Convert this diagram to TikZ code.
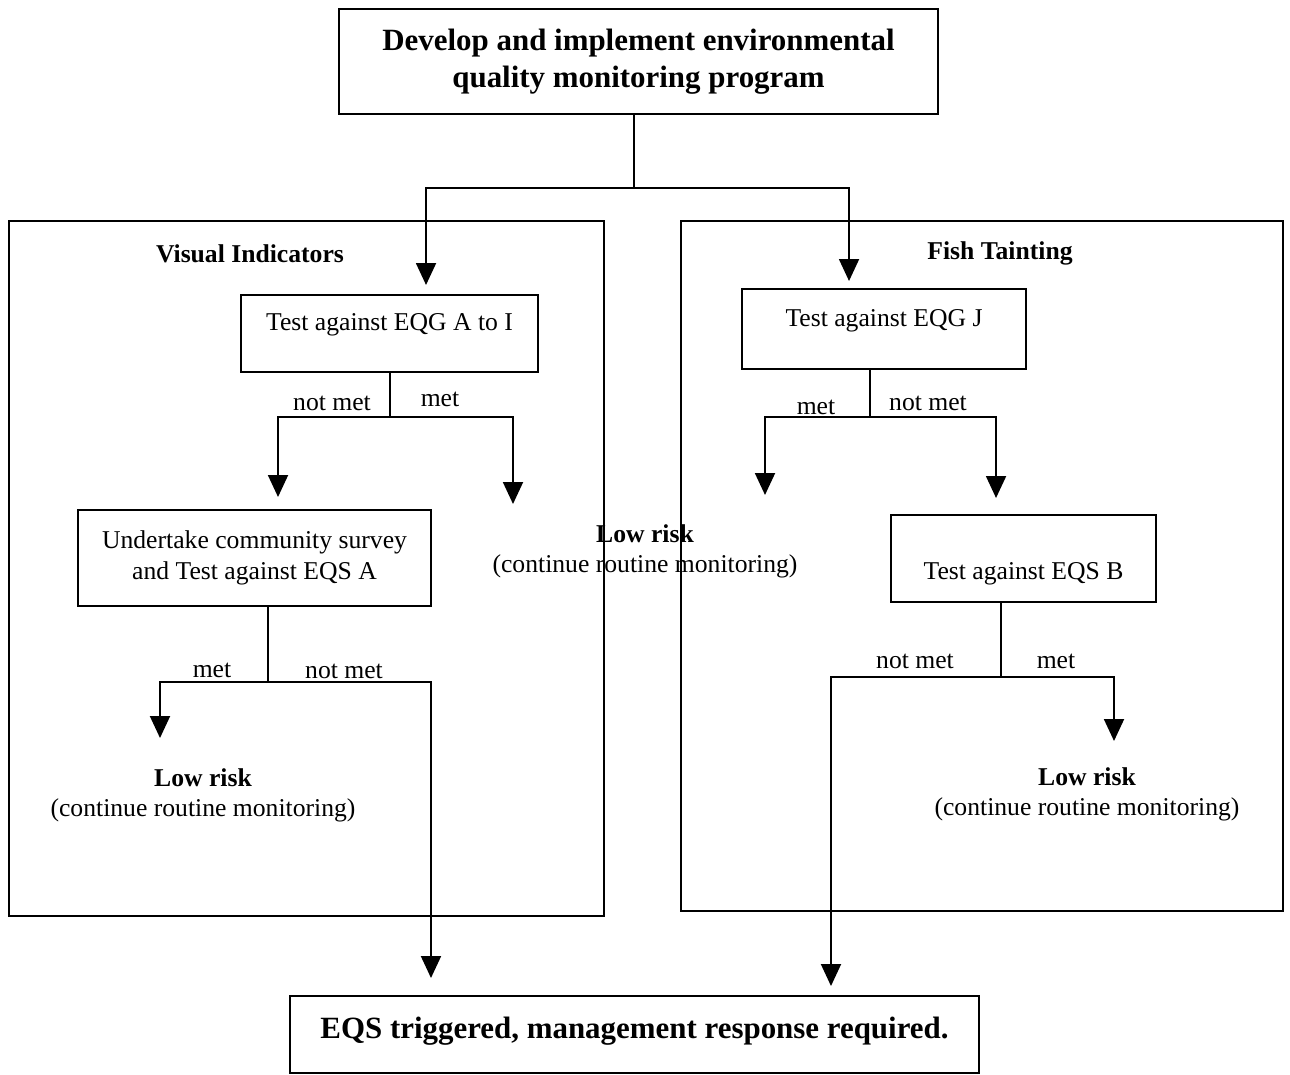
\documentclass[tikz,border=0pt]{standalone}
\usepackage{fontspec}
\setmainfont{Liberation Serif}
\usetikzlibrary{arrows.meta, calc}

\begin{document}
\begin{tikzpicture}[x=0.02cm, y=-0.02cm,
    box/.style={draw, line width=1.2pt, inner sep=0pt, anchor=north west, align=center,
      font=\fontsize{14.6}{17.6}\selectfont},
    panel/.style={draw, line width=1pt, inner sep=0pt, anchor=north west},
    body/.style={align=center, font=\fontsize{14.6}{17}\selectfont},
    head/.style={font=\fontsize{14.6}{17}\selectfont\bfseries},
    lbl/.style={font=\fontsize{14.6}{17}\selectfont},
    flow/.style={line width=1.1pt},
    arr/.style={flow, -{Triangle[length=0.44cm, width=0.4cm]}}]
  \useasboundingbox (0,0) rectangle (1290,1074);

  \node[box, minimum width=11.98cm, minimum height=2.1cm, font=\fontsize{17.6}{21}\selectfont\bfseries]
    (develop) at (338,8) {Develop and implement environmental\\quality monitoring program};

  \node[panel, minimum width=11.9cm, minimum height=13.9cm] (visual) at (8,220) {};
  \node[panel, minimum width=12.04cm, minimum height=13.8cm] (fish) at (680,220) {};
  \node[head] (visualhead) at (250,254) {Visual Indicators};
  \node[head] (fishhead) at (1000,253) {Fish Tainting};

  \node[box, minimum width=5.94cm, text height=0.7cm, text depth=0.84cm] (eqga) at (240,294) {Test against EQG A to I};
  \node[box, minimum width=5.68cm, text height=0.74cm, text depth=0.86cm] (eqgj) at (741,288) {Test against EQG J};
  \node[box, minimum width=7.06cm, minimum height=1.92cm] (survey) at (77,509)
    {Undertake community survey\\and Test against EQS A};
  \node[box, minimum width=5.3cm, text height=1.28cm, text depth=0.46cm] (eqsb) at (890,514) {Test against EQS B};
  \node[box, minimum width=13.78cm, text height=0.84cm, text depth=0.7cm, font=\fontsize{17.6}{21}\selectfont\bfseries]
    (response) at (289,995) {EQS triggered, management response required.};

  \node[body] (lowmid) at (645,551) {\textbf{Low risk}\\(continue routine monitoring)};
  \node[body] (lowleft) at (203,795) {\textbf{Low risk}\\(continue routine monitoring)};
  \node[body] (lowright) at (1087,794) {\textbf{Low risk}\\(continue routine monitoring)};

  \coordinate (j0) at (634,188);
  \coordinate (j1) at (390,417);
  \coordinate (j2) at (268,682);
  \coordinate (j3) at (870,417);
  \coordinate (j4) at (1001,677);
  \coordinate (t1) at (513,504);
  \coordinate (t2) at (160,738);
  \coordinate (t3) at (765,495);
  \coordinate (t4) at (1114,741);

  \draw[flow] (develop.south -| j0) -- (j0);
  \draw[arr, shorten >=0.18cm] (j0) -| ($(eqga.north)+(36.5,0)$);
  \draw[arr, shorten >=0.14cm] (j0) -| ($(eqgj.north)+(-35,0)$);

  \draw[flow] (eqga.south -| j1) -- (j1);
  \draw[arr, shorten >=0.24cm] (j1) -| ($(survey.north)+(23.5,0)$);
  \draw[arr] (j1) -| (t1);
  \node[lbl] (notmet1) at (332,403) {not met};
  \node[lbl] (met1) at (440,399) {met};

  \draw[flow] (survey.south -| j2) -- (j2);
  \draw[arr] (j2) -| (t2);
  \draw[arr, shorten >=0.34cm] (j2) -| ($(response.north)+(-203.5,0)$);
  \node[lbl] (met2) at (212,670) {met};
  \node[lbl] (notmet2) at (344,671) {not met};

  \draw[flow] (eqgj.south -| j3) -- (j3);
  \draw[arr] (j3) -| (t3);
  \draw[arr, shorten >=0.32cm] (j3) -| ($(eqsb.north)+(-27.5,0)$);
  \node[lbl] (met3) at (816,407) {met};
  \node[lbl] (notmet3) at (928,403) {not met};

  \draw[flow] (eqsb.south -| j4) -- (j4);
  \draw[arr] (j4) -| (t4);
  \draw[arr, shorten >=0.18cm] (j4) -| ($(response.north)+(196.5,0)$);
  \node[lbl] (notmet4) at (915,661) {not met};
  \node[lbl] (met4) at (1056,661) {met};
\end{tikzpicture}
\end{document}
